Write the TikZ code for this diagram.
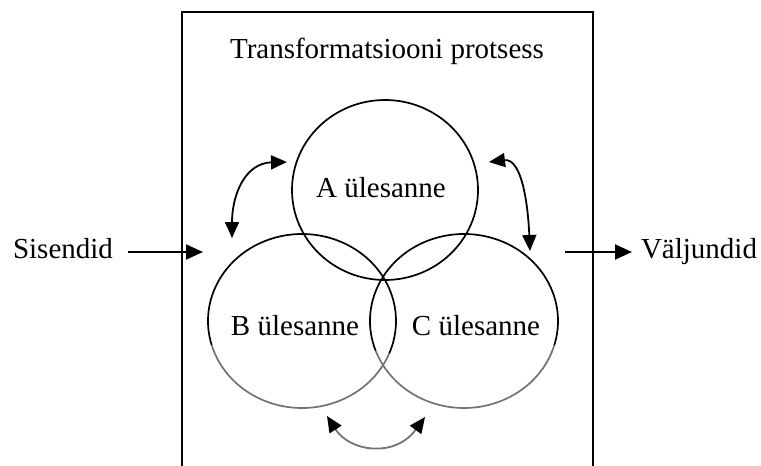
\documentclass[tikz,border=0pt]{standalone}
\usepackage{fontspec}
\setmainfont{Liberation Serif}
\usetikzlibrary{arrows.meta,calc}
\begin{document}
\begin{tikzpicture}[x=1pt,y=-1pt,
  lbl/.style={font=\fontsize{29}{32}\selectfont, anchor=base, inner sep=0pt},
  frame/.style={line width=2pt},
  ring/.style={line width=1.7pt},
  lowring/.style={line width=1.7pt, black!55},
  flow/.style={line width=2pt, -{Triangle[length=17pt,width=15pt]}},
  swap/.style={line width=1.8pt, {Triangle[length=16pt,width=14pt]}-{Triangle[length=16pt,width=14pt]}},
]
\useasboundingbox (0,0) rectangle (761,466);
% frame
\draw[frame] (182,470) -- (182,12) -- (593,12) -- (593,470);
% circles
\coordinate (ca) at (385,190);
\coordinate (cb) at (302,321);
\coordinate (cc) at (464,321);
\draw[ring] (ca) ellipse [x radius=93, y radius=90];
\draw[ring] ($(cb)+(164:94 and 87)$) arc[start angle=164, end angle=382, x radius=94, y radius=87];
\draw[lowring] ($(cb)+(22:94 and 87)$) arc[start angle=22, end angle=164, x radius=94, y radius=87];
\draw[ring] ($(cc)+(160:94 and 87)$) arc[start angle=160, end angle=376, x radius=94, y radius=87];
\draw[lowring] ($(cc)+(16:94 and 87)$) arc[start angle=16, end angle=160, x radius=94, y radius=87];
% texts
\node[lbl] (title) at (387,58) {Transformatsiooni protsess};
\node[lbl] (ta) at (381,197) {A ülesanne};
\node[lbl] (tb) at (295,335) {B ülesanne};
\node[lbl] (tc) at (476,335) {C ülesanne};
\node[lbl] (in) at (63,258) {Sisendid};
\node[lbl] (out) at (699,258) {Väljundid};
% flow arrows
\coordinate (inA) at (128,252);
\coordinate (inB) at (203,252);
\coordinate (outA) at (565,252);
\coordinate (outB) at (632,252);
\draw[flow] (inA) -- (inB);
\draw[flow] (outA) -- (outB);
% curved double arrows
\coordinate (l1) at (232,238);
\coordinate (l2) at (287,162);
\coordinate (r1) at (489,162);
\coordinate (r2) at (530,251);
\coordinate (b1) at (327,416);
\coordinate (b2) at (425,417);
\draw[swap] (l1) .. controls (232,195) and (245,163) .. (l2);
\draw[swap] (r1) .. controls (522,158) and (528,205) .. (r2);
\draw[line width=1.8pt, draw=black!55, {Triangle[length=16pt,width=14pt,color=black]}-{Triangle[length=16pt,width=14pt,color=black]}] (b1) .. controls (350,452) and (395,458) .. (b2);
\end{tikzpicture}
\end{document}
